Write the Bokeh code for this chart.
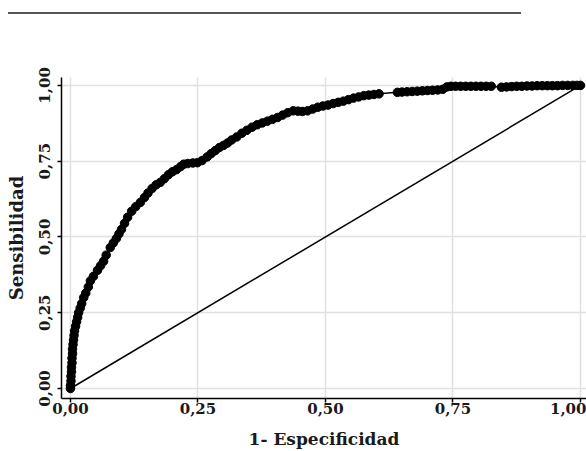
from bokeh.plotting import figure
from bokeh.models import Range1d, FixedTicker, CustomJSTickFormatter, ColumnDataSource, Div
from bokeh.layouts import column
from bokeh.embed import file_html
from bokeh.resources import INLINE

# ROC curve points (1 - specificity, sensitivity)
fpr = [0.000, 0.000, 0.001, 0.001, 0.002, 0.002, 0.003, 0.003, 0.004, 0.004,
       0.005, 0.006, 0.007, 0.008, 0.010, 0.012, 0.014, 0.016, 0.019, 0.022,
       0.026, 0.030, 0.035, 0.039, 0.045, 0.053, 0.059, 0.065, 0.070, 0.078,
       0.084, 0.090, 0.095, 0.100, 0.106, 0.112, 0.120, 0.128, 0.137, 0.145,
       0.152, 0.160, 0.168, 0.176, 0.184, 0.192, 0.200, 0.208, 0.216, 0.222,
       0.230, 0.240, 0.249, 0.258, 0.268, 0.276, 0.284, 0.292, 0.300, 0.308,
       0.316, 0.326, 0.336, 0.346, 0.356, 0.366, 0.376, 0.386, 0.396, 0.406,
       0.416, 0.426, 0.437, 0.446, 0.455, 0.465, 0.475, 0.485, 0.495, 0.505,
       0.515, 0.525, 0.535, 0.545, 0.555, 0.565, 0.575, 0.585, 0.595, 0.605,
       0.641, 0.650, 0.660, 0.670, 0.680, 0.690, 0.700, 0.710, 0.720, 0.730,
       0.738, 0.746, 0.755, 0.765, 0.775, 0.785, 0.795, 0.805, 0.815, 0.825,
       0.845, 0.855, 0.865, 0.875, 0.885, 0.895, 0.905, 0.915, 0.925, 0.935,
       0.945, 0.955, 0.965, 0.975, 0.985, 0.993, 1.000]
tpr = [0.000, 0.010, 0.025, 0.040, 0.055, 0.070, 0.085, 0.100, 0.115, 0.130,
       0.145, 0.160, 0.175, 0.190, 0.205, 0.220, 0.235, 0.250, 0.265, 0.280,
       0.300, 0.315, 0.335, 0.355, 0.370, 0.390, 0.405, 0.420, 0.440, 0.465,
       0.480, 0.495, 0.510, 0.525, 0.545, 0.565, 0.585, 0.600, 0.614, 0.630,
       0.645, 0.660, 0.672, 0.680, 0.692, 0.705, 0.715, 0.722, 0.732, 0.740,
       0.742, 0.744, 0.745, 0.752, 0.764, 0.775, 0.785, 0.795, 0.802, 0.810,
       0.820, 0.830, 0.842, 0.852, 0.862, 0.870, 0.876, 0.882, 0.888, 0.894,
       0.902, 0.910, 0.916, 0.915, 0.914, 0.916, 0.922, 0.928, 0.932, 0.935,
       0.940, 0.944, 0.948, 0.953, 0.958, 0.962, 0.966, 0.968, 0.970, 0.972,
       0.977, 0.978, 0.979, 0.980, 0.981, 0.982, 0.983, 0.984, 0.985, 0.987,
       0.995, 0.997, 0.997, 0.997, 0.997, 0.997, 0.997, 0.997, 0.997, 0.997,
       0.994, 0.995, 0.996, 0.997, 0.997, 0.998, 0.998, 0.999, 0.999, 0.999,
       0.999, 0.999, 1.000, 1.000, 1.000, 1.000, 1.000]

# reference (chance) line
ref_x = [0.0, 1.0]
ref_y = [0.0, 1.0]

tick_vals = [0.0, 0.25, 0.5, 0.75, 1.0]
tick_labels = ["0,00", "0,25", "0,50", "0,75", "1,00"]

x_label = "1- Especificidad"
y_label = "Sensibilidad"

FONT = "DejaVu Serif"

# --- page header rule (cut-off running head of the source page) -------------
header = Div(width=586, height=20, margin=0,
             text='<div style="padding-top:12px;padding-left:8px;">'
                  '<div style="width:513px;height:0;border-top:2px solid #555555;"></div></div>')

# --- main chart ---------------------------------------------------------------
p = figure(width=586, height=431, output_backend="svg", toolbar_location=None,
           x_range=Range1d(-0.0176, 1.0118), y_range=Range1d(-0.033, 1.026),
           min_border_left=61, min_border_right=0, min_border_top=57, min_border_bottom=53)
p.outline_line_color = None
p.background_fill_color = "white"

src = ColumnDataSource(dict(x=fpr, y=tpr))
p.line(ref_x, ref_y, line_color="black", line_width=1.5)
p.line("x", "y", source=src, line_color="black", line_width=1.5)
p.scatter("x", "y", source=src, size=8.5, fill_color="black", line_color="black")

fmt = CustomJSTickFormatter(args=dict(vals=tick_vals, labels=tick_labels), code="""
for (let i = 0; i < vals.length; i++) { if (Math.abs(vals[i] - tick) < 1e-6) return labels[i]; }
return tick.toFixed(2).replace('.', ',');
""")

for ax in (p.xaxis[0], p.yaxis[0]):
    ax.ticker = FixedTicker(ticks=tick_vals)
    ax.formatter = fmt
    ax.axis_line_color = "black"
    ax.axis_line_width = 1.5
    ax.major_tick_line_color = "black"
    ax.major_tick_line_width = 1.5
    ax.major_tick_out = 4
    ax.major_tick_in = 0
    ax.minor_tick_line_color = None
    ax.major_label_text_font = FONT
    ax.major_label_text_font_style = "bold"
    ax.major_label_text_font_size = "15px"
    ax.major_label_text_color = "#1a1a1a"
    ax.axis_label_text_font = FONT
    ax.axis_label_text_font_style = "bold"
    ax.axis_label_text_color = "#1a1a1a"

p.xaxis.axis_label = x_label
p.xaxis.major_label_standoff = 0
p.xaxis.axis_label_standoff = 12
p.xaxis.axis_label_text_font_size = "17px"

p.yaxis.axis_label = y_label
p.yaxis.major_label_orientation = "vertical"
p.yaxis.major_label_standoff = 7
p.yaxis.axis_label_standoff = 10
p.yaxis.axis_label_text_font_size = "18px"

for g in (p.xgrid[0], p.ygrid[0]):
    g.ticker = FixedTicker(ticks=tick_vals)
    g.grid_line_color = "#e0e0e0"
    g.grid_line_width = 1.5

layout = column(header, p, spacing=0)
open("out.html", "w").write(file_html(layout, INLINE))
